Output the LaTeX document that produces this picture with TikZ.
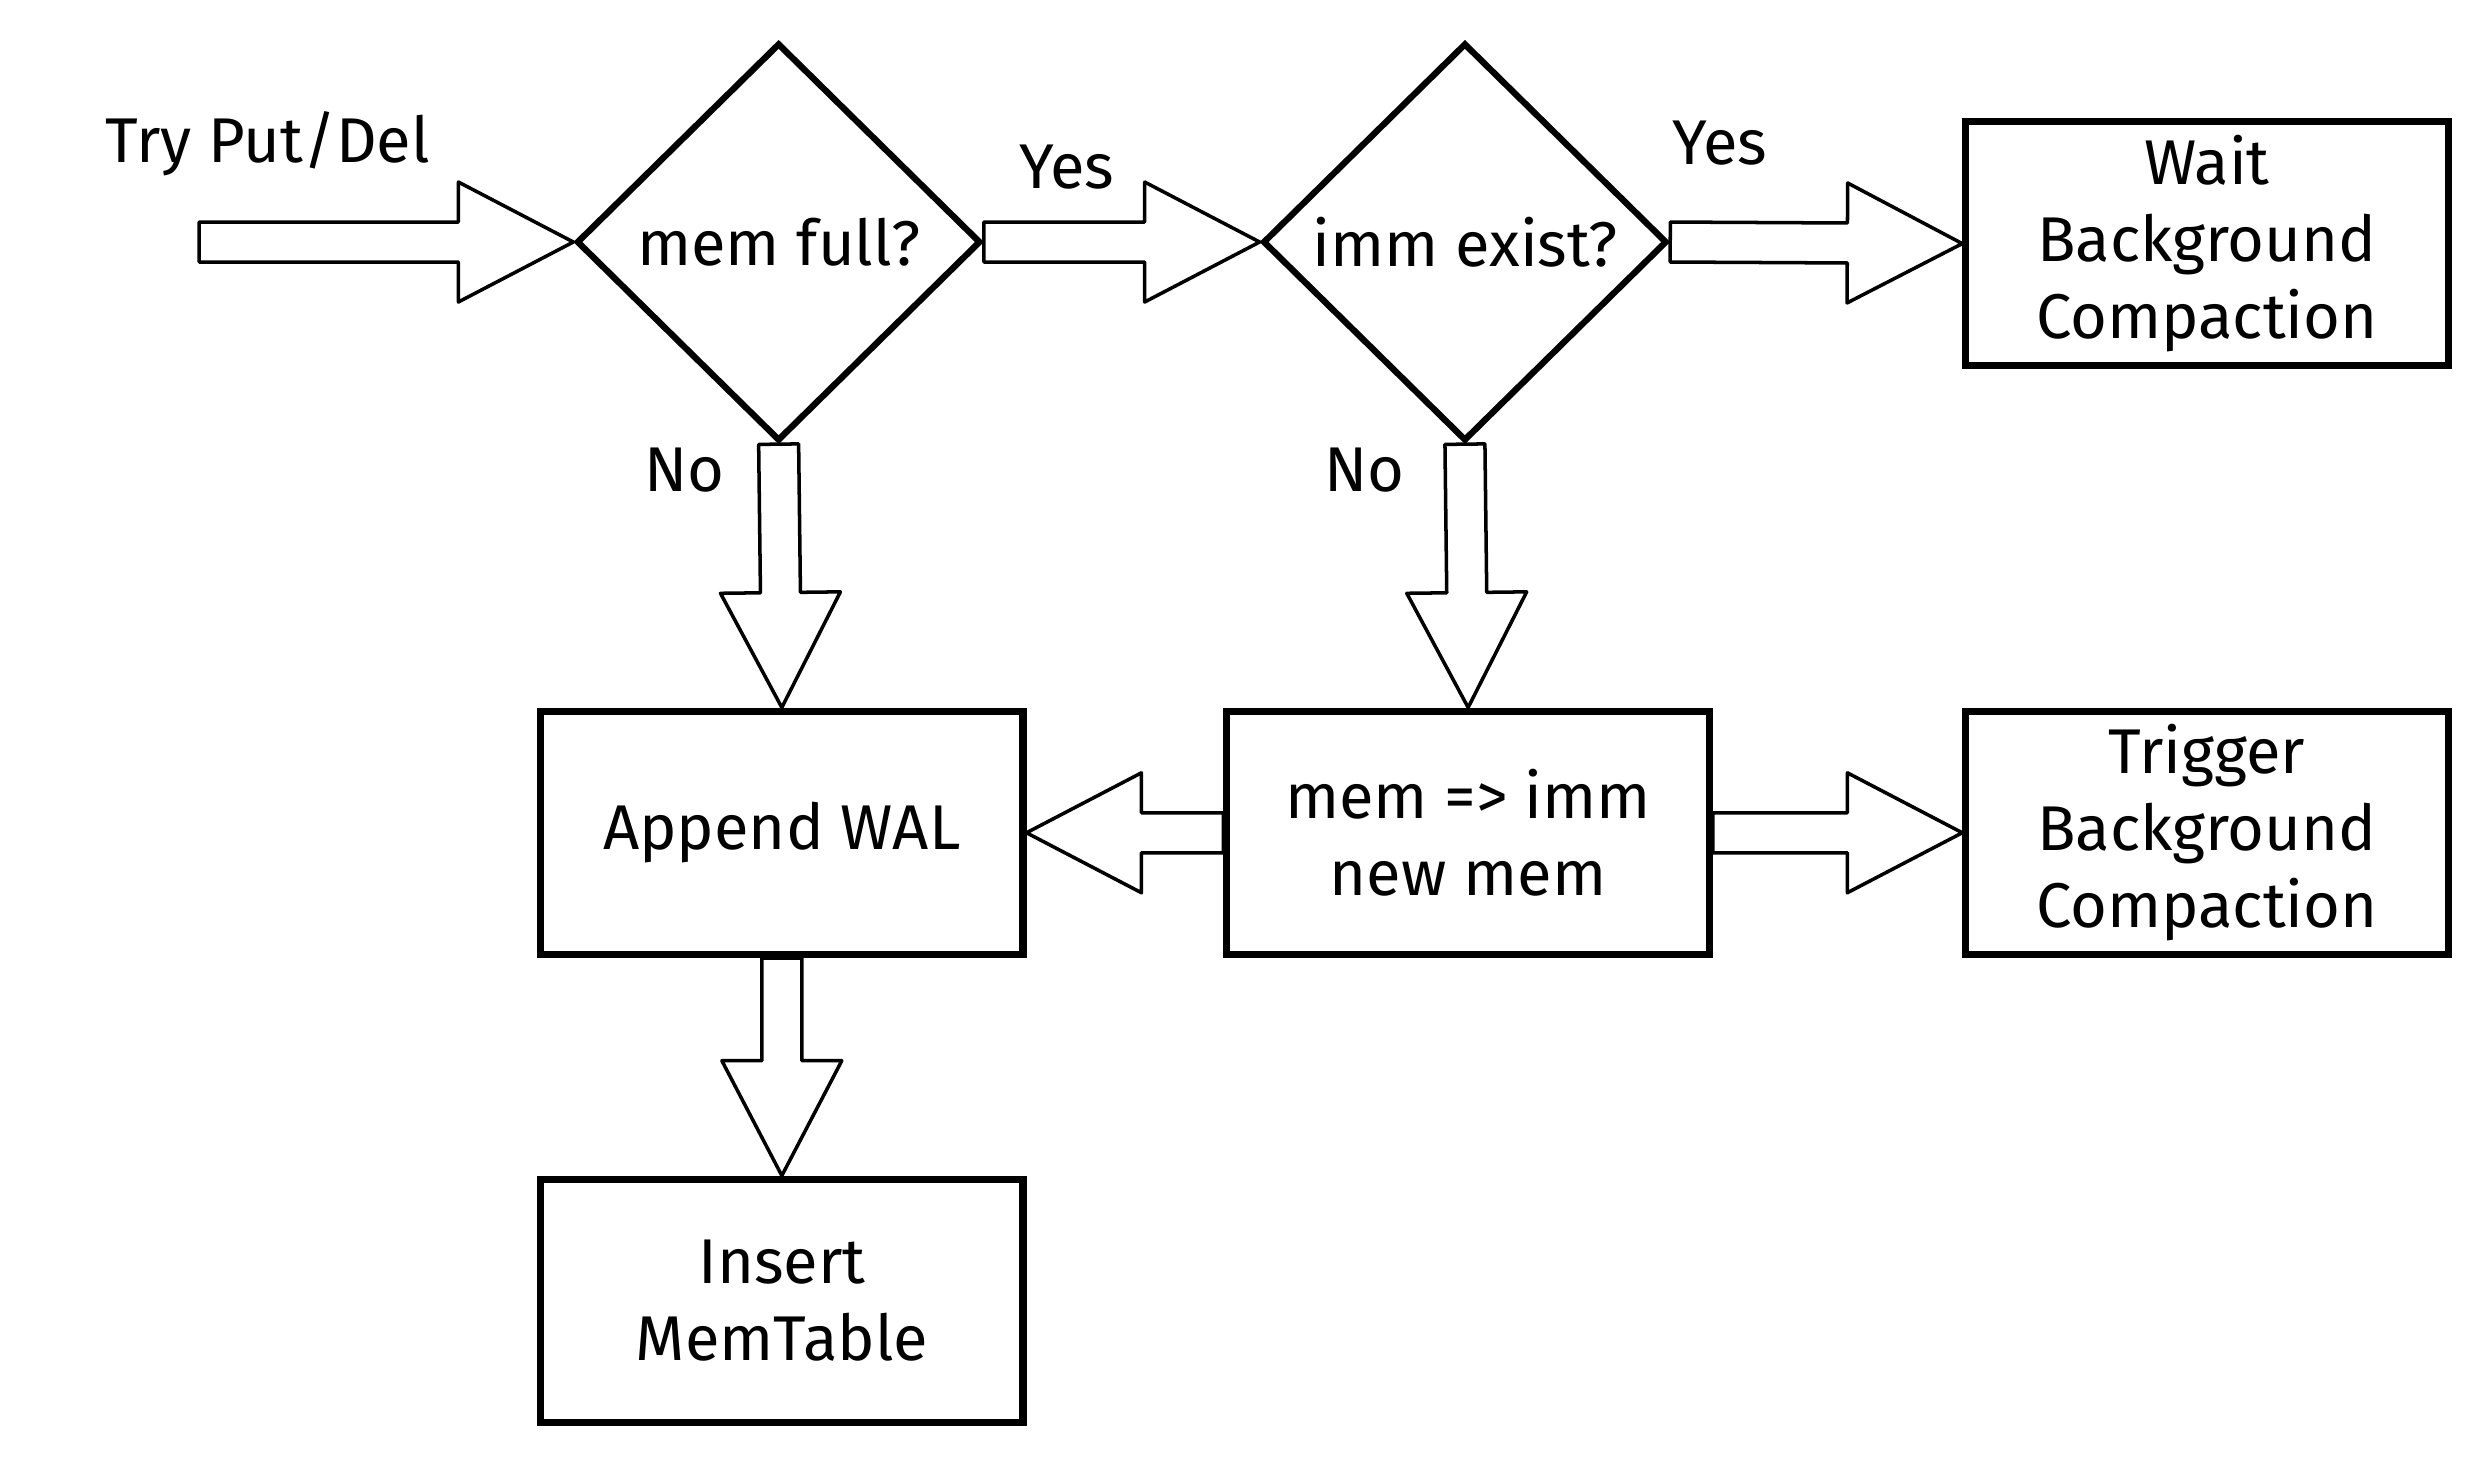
\documentclass[tikz,border=0pt]{standalone}
\usepackage{fontspec}
\setmainfont{Fira Sans}
\usetikzlibrary{shapes.geometric,calc}

\tikzset{
  stepbox/.style={draw, line width=2pt, minimum width=4.825cm, minimum height=2.436cm, align=center, inner sep=0pt},
  decision/.style={draw, diamond, line width=1.8pt, minimum width=4.044cm, minimum height=3.981cm, inner sep=0pt},
  fatline/.style={line width=1pt, line join=round, fill=white},
  every node/.append style={font=\fontsize{18}{22}\selectfont}
}

\newcommand{\fatarrow}[2]{%
  \coordinate (neck) at ($(#2)!1.15cm!(#1)$);
  \draw[fatline] ($(#1)!0.2cm!90:(#2)$) -- ($(neck)!0.2cm!-90:(#1)$) -- ($(neck)!0.6cm!-90:(#1)$) -- (#2)
    -- ($(neck)!0.6cm!90:(#1)$) -- ($(neck)!0.2cm!90:(#1)$) -- ($(#1)!0.2cm!-90:(#2)$) -- cycle;}

\begin{document}
\begin{tikzpicture}[x=0.015923cm,y=-0.015923cm]
\useasboundingbox (0,0) rectangle (1560,917);
\node[decision] (full) at (489,152) {mem full?};
\node[decision] (exist) at (920,152) {imm exist?};
\node[stepbox] (wait) at (1386,153) {Wait\\Background\\Compaction};
\node[stepbox] (wal) at (491,523) {Append WAL};
\node[stepbox] (swap) at (922,523) {mem => imm\\new mem};
\node[stepbox] (trigger) at (1386,523) {Trigger\\Background\\Compaction};
\node[stepbox] (insert) at (491,817) {Insert\\MemTable};
\coordinate (start) at (125,152);
\node (try) at (168,90) {Try Put/Del};
\node (yes1) at (670,105) {Yes};
\node (yes2) at (1080,90) {Yes};
\node (no1) at (430,295) {No};
\node (no2) at (857,295) {No};
\fatarrow{start}{full.west}
\fatarrow{full.east}{exist.west}
\fatarrow{exist.east}{wait.west}
\fatarrow{full.south}{wal.north}
\fatarrow{exist.south}{swap.north}
\fatarrow{swap.west}{wal.east}
\fatarrow{swap.east}{trigger.west}
\fatarrow{wal.south}{insert.north}
\end{tikzpicture}
\end{document}
